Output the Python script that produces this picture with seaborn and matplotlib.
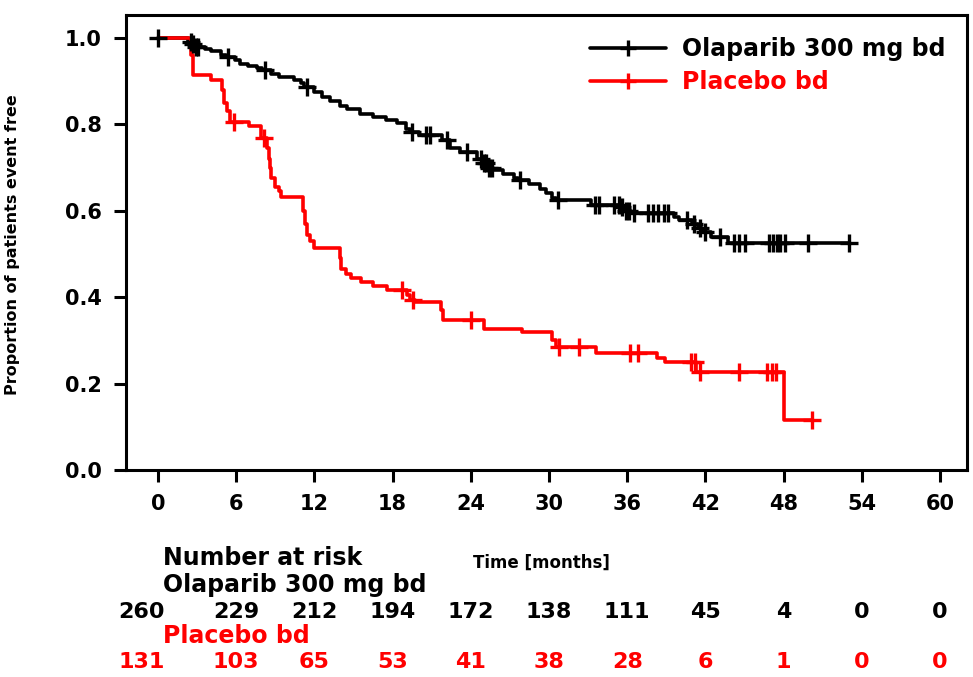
import numpy as np
import pandas as pd
import matplotlib
matplotlib.use("Agg")
import matplotlib.pyplot as plt
import matplotlib.transforms as mtransforms
from matplotlib.lines import Line2D
import seaborn as sns

# Kaplan-Meier step points (time in months, proportion event free)
olaparib_t = [0, 2.3, 2.6, 2.8, 3.6, 4.1, 4.8, 5.2, 5.9, 6.3, 6.9, 7.6, 8.0, 8.7,
              9.3, 10.4, 11.0, 11.2, 12.0, 12.6, 13.2, 14.0, 14.5, 15.5, 16.5,
              17.5, 18.3, 19.0, 19.3, 20.0, 21.8, 22.4, 23.2, 24.5, 25.0, 25.3,
              25.7, 26.5, 27.3, 27.6, 28.5, 29.3, 29.8, 30.2, 30.5, 33.2, 35.5,
              35.8, 36.3, 39.6, 40.0, 41.0, 41.4, 41.7, 42.4, 43.7]
olaparib_s = [1.0, 0.99, 0.985, 0.98, 0.975, 0.97, 0.96, 0.956, 0.948, 0.94, 0.935,
              0.93, 0.926, 0.917, 0.91, 0.903, 0.895, 0.887, 0.875, 0.863, 0.853,
              0.843, 0.835, 0.825, 0.817, 0.81, 0.803, 0.79, 0.782, 0.775, 0.764,
              0.745, 0.736, 0.72, 0.71, 0.70, 0.694, 0.685, 0.676, 0.671, 0.662,
              0.65, 0.64, 0.63, 0.625, 0.613, 0.608, 0.60, 0.594, 0.586, 0.578,
              0.57, 0.56, 0.55, 0.54, 0.526]
olaparib_censor = [0, 2.5, 2.7, 2.9, 3.1, 5.4, 8.2, 11.4, 19.5, 20.6, 20.9, 22.2,
                   23.7, 24.8, 25.0, 25.2, 25.4, 25.6, 27.8, 30.7, 33.5, 33.8,
                   35.0, 35.4, 35.6, 35.9, 36.1, 36.5, 37.6, 38.0, 38.4, 38.8,
                   39.1, 40.6, 41.1, 41.6, 42.0, 43.1, 44.2, 44.6, 45.0, 46.9,
                   47.2, 47.5, 47.7, 48.1, 49.9, 53.0]

placebo_t = [0, 2.5, 2.65, 4.1, 4.9, 5.1, 5.3, 5.55, 7.0, 7.9, 8.4, 8.5, 8.6, 8.7,
             9.0, 9.3, 9.4, 11.1, 11.25, 11.4, 11.7, 12.0, 14.0, 14.05, 14.4, 14.8,
             15.6, 16.5, 17.6, 19.1, 19.3, 19.7, 21.7, 21.9, 25.0, 27.9, 30.2,
             30.5, 33.6, 38.3, 38.9, 41.3, 48.0]
placebo_s = [1.0, 0.96, 0.915, 0.903, 0.88, 0.85, 0.83, 0.806, 0.795, 0.768, 0.745,
             0.72, 0.70, 0.675, 0.655, 0.645, 0.632, 0.60, 0.57, 0.545, 0.53, 0.514,
             0.49, 0.465, 0.453, 0.444, 0.435, 0.426, 0.417, 0.405, 0.394, 0.389,
             0.37, 0.347, 0.326, 0.319, 0.30, 0.285, 0.27, 0.259, 0.25, 0.227,
             0.116]
placebo_censor = [5.8, 8.1, 18.7, 19.6, 24.0, 30.8, 32.3, 36.2, 36.8, 40.9, 41.2,
                  41.6, 44.6, 46.7, 47.1, 47.4, 50.2]

arm_names = ["Olaparib 300 mg bd", "Placebo bd"]
arm_colors = ["#000000", "#ff0000"]

risk_times = [0, 6, 12, 18, 24, 30, 36, 42, 48, 54, 60]
olaparib_risk = [260, 229, 212, 194, 172, 138, 111, 45, 4, 0, 0]
placebo_risk = [131, 103, 65, 53, 41, 38, 28, 6, 1, 0, 0]

x_ticks = [0, 6, 12, 18, 24, 30, 36, 42, 48, 54, 60]
y_ticks = [0.0, 0.2, 0.4, 0.6, 0.8, 1.0]

sns.set_theme(style="ticks")
plt.rcParams["font.family"] = ["DejaVu Sans"]
plt.rcParams["font.weight"] = "bold"
plt.rcParams["axes.labelcolor"] = "black"
plt.rcParams["text.color"] = "black"

fig = plt.figure(figsize=(9.73, 6.77), dpi=100)
W, H = 973, 677
ax = fig.add_axes([126 / W, 1 - 470 / H, (967 - 126) / W, (470 - 15) / H])

LW = 2.6


def step_frame(t, s, end):
    times = list(t) + [end]
    vals = list(s) + [s[-1]]
    return pd.DataFrame({"time": times, "surv": vals})


def value_at(t, s, c):
    idx = np.searchsorted(np.asarray(t), np.asarray(c), side="right") - 1
    return np.asarray(s)[idx]


curves = [
    (olaparib_t, olaparib_s, olaparib_censor),
    (placebo_t, placebo_s, placebo_censor),
]

# survival steps
for (t, s, cens), col in zip(curves, arm_colors):
    df = step_frame(t, s, max(cens))
    sns.lineplot(data=df, x="time", y="surv", ax=ax, color=col, lw=LW,
                 drawstyle="steps-post", estimator=None, sort=False, legend=False)

# censoring marks
for (t, s, cens), col in zip(curves, arm_colors):
    cdf = pd.DataFrame({"time": cens, "surv": value_at(t, s, cens)})
    sns.scatterplot(data=cdf, x="time", y="surv", ax=ax, marker="+", s=160,
                    color=col, linewidth=2.4, legend=False, zorder=4)

ax.set_xlim(-2.455, 62.07)
ax.set_ylim(0.0, 1.053)
ax.set_xticks(x_ticks)
ax.set_xticklabels([str(v) for v in x_ticks])
ax.set_yticks(y_ticks)
ax.set_yticklabels([f"{v:.1f}" for v in y_ticks])
ax.tick_params(axis="both", direction="out", length=8.6, width=2.2,
               labelsize=15, pad=9, color="black", labelcolor="black")
for sp in ax.spines.values():
    sp.set_visible(True)
    sp.set_linewidth(2.2)
    sp.set_color("black")
ax.set_xlabel("")
ax.set_ylabel("Proportion of patients event free", fontsize=11.5,
              fontweight="bold", color="black")
ax.yaxis.set_label_coords((20 - 126) / 841, 1 - (245 - 15) / 455)

handles = [Line2D([], [], color=c, lw=LW, marker="+", markersize=12, mew=2.4)
           for c in arm_colors]
leg = ax.legend(handles, arm_names, loc="upper left",
                bbox_to_anchor=((590 - 126) / 841, 1 - (37 - 15) / 455),
                frameon=False, fontsize=17, handlelength=3.2,
                handletextpad=0.7, labelspacing=0.4, borderpad=0,
                borderaxespad=0)
for txt, c in zip(leg.get_texts(), arm_colors):
    txt.set_color(c)
    txt.set_fontweight("bold")

# number-at-risk table below the axes
fig.text(163 / W, 1 - 558 / H, "Number at risk", fontsize=17,
         fontweight="bold", va="center", ha="left", color="black")
fig.text(473 / W, 1 - 563 / H, "Time [months]", fontsize=12,
         fontweight="bold", va="center", ha="left", color="black")
fig.text(163 / W, 1 - 585 / H, arm_names[0], fontsize=17,
         fontweight="bold", va="center", ha="left", color=arm_colors[0])
fig.text(163 / W, 1 - 636 / H, arm_names[1], fontsize=17,
         fontweight="bold", va="center", ha="left", color=arm_colors[1])

blend = mtransforms.blended_transform_factory(ax.transData, fig.transFigure)
first_shift = mtransforms.ScaledTranslation(-16 / 100, 0, fig.dpi_scale_trans)
for row, ypx, col in [(olaparib_risk, 612, arm_colors[0]),
                      (placebo_risk, 662, arm_colors[1])]:
    for i, (tm, n) in enumerate(zip(risk_times, row)):
        tr = blend + first_shift if i == 0 else blend
        ax.text(tm, 1 - ypx / H, str(n), transform=tr, fontsize=16,
                fontweight="bold", ha="center", va="center", color=col,
                clip_on=False)

fig.savefig("out.png", dpi=100)
